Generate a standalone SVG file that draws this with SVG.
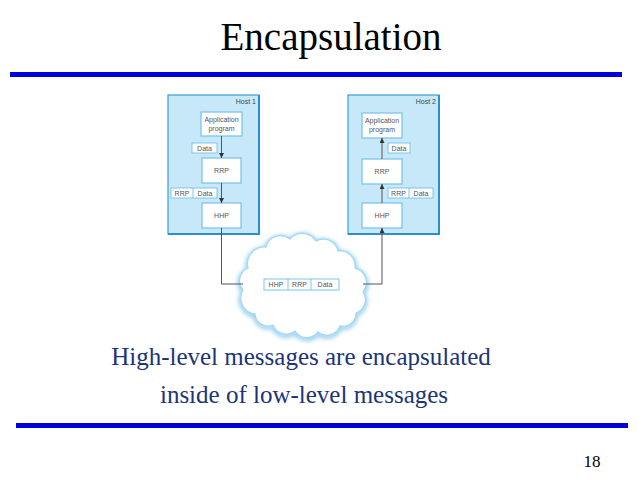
<svg xmlns="http://www.w3.org/2000/svg" width="638" height="479" viewBox="0 0 638 479">
<style>
.title{font-family:"Liberation Serif",serif;font-size:39px;fill:#000}
.body{font-family:"Liberation Serif",serif;font-size:25px;fill:#1c3578}
.num{font-family:"Liberation Serif",serif;font-size:17px;fill:#000}
.rule{fill:#0000dd}
.host{fill:#c7e8f8;stroke:#3a9fd8;stroke-width:1.2}
.hshadow{fill:none;stroke:#2a8fcc;stroke-width:2}
.box{fill:#fff;stroke:#7cc6ec;stroke-width:1.3}
.tag{fill:#fff;stroke:#7cc6ec;stroke-width:1}
.lbl{font-family:"Liberation Sans",Arial,sans-serif;font-size:7px;fill:#555;text-anchor:middle}
.hl{font-family:"Liberation Sans",Arial,sans-serif;font-size:7px;fill:#444;text-anchor:end}
.conn{fill:none;stroke:#555;stroke-width:1}
</style>
<defs>
<marker id="ah" viewBox="0 0 6 6" refX="6" refY="3" markerWidth="5" markerHeight="5" orient="auto" markerUnits="userSpaceOnUse">
<path d="M0,0 L6,3 L0,6 z" fill="#333"/>
</marker>
<path id="cloudpath" d="M243,290 A14,14 0 0 1 248,268 A17,17 0 0 1 266,247 A15,15 0 0 1 290,239 A16,16 0 0 1 316,241 A15,15 0 0 1 338,251 A15,15 0 0 1 355,268 A15,15 0 0 1 363,292 A14,14 0 0 1 356,313 A13,13 0 0 1 340,326 A14,14 0 0 1 318,332 A14,14 0 0 1 295,331 A14,14 0 0 1 273,325 A13,13 0 0 1 255,314 A16,16 0 0 1 243,290 Z"/>
<filter id="glow" x="-20%" y="-20%" width="140%" height="140%">
<feGaussianBlur stdDeviation="2"/>
</filter>
</defs>
<rect width="638" height="479" fill="#fff"/>
<text class="title" x="331" y="50" text-anchor="middle">Encapsulation</text>
<rect class="rule" x="10" y="72" width="612" height="5"/>

<g id="host1">
<rect class="host" x="168" y="95" width="91" height="139"/>
<polyline class="hshadow" points="259,95 259,234 168,234"/>
<text class="hl" x="256" y="104">Host 1</text>
</g>
<g id="app1">
<rect class="box" x="201" y="112" width="41" height="24"/>
<text class="lbl" x="221.5" y="122">Application</text>
<text class="lbl" x="221.5" y="131">program</text>
</g>
<g id="data1">
<rect class="tag" x="192" y="143" width="25" height="10"/>
<text class="lbl" x="204.5" y="150.5">Data</text>
</g>
<g id="rrp1">
<rect class="box" x="202" y="158" width="39" height="25"/>
<text class="lbl" x="221.5" y="173">RRP</text>
</g>
<g id="rrpdata1">
<rect class="tag" x="171" y="188" width="46" height="10"/>
<line x1="193" y1="188" x2="193" y2="198" stroke="#7cc6ec" stroke-width="1"/>
<text class="lbl" x="182" y="195.5">RRP</text>
<text class="lbl" x="205" y="195.5">Data</text>
</g>
<g id="hhp1">
<rect class="box" x="202" y="203" width="39" height="25"/>
<text class="lbl" x="221.5" y="218">HHP</text>
</g>

<g id="host2">
<rect class="host" x="348" y="95" width="91" height="139"/>
<polyline class="hshadow" points="439,95 439,234 348,234"/>
<text class="hl" x="436" y="104">Host 2</text>
</g>
<g id="app2">
<rect class="box" x="362" y="113" width="40" height="25"/>
<text class="lbl" x="382" y="123">Application</text>
<text class="lbl" x="382" y="132">program</text>
</g>
<g id="data2">
<rect class="tag" x="388" y="143" width="22" height="10"/>
<text class="lbl" x="399" y="150.5">Data</text>
</g>
<g id="rrp2">
<rect class="box" x="362" y="159" width="40" height="25"/>
<text class="lbl" x="382" y="174">RRP</text>
</g>
<g id="rrpdata2">
<rect class="tag" x="388" y="188" width="45" height="10"/>
<line x1="409" y1="188" x2="409" y2="198" stroke="#7cc6ec" stroke-width="1"/>
<text class="lbl" x="398.5" y="195.5">RRP</text>
<text class="lbl" x="421" y="195.5">Data</text>
</g>
<g id="hhp2">
<rect class="box" x="362" y="203" width="40" height="25"/>
<text class="lbl" x="382" y="218">HHP</text>
</g>

<g id="cloud">
<use href="#cloudpath" fill="none" stroke="#8ccbee" stroke-width="4" filter="url(#glow)" transform="translate(0,1.5)"/>
<use href="#cloudpath" fill="#fff" stroke="#a6d8f2" stroke-width="1.3"/>
</g>
<g id="packet">
<rect class="tag" x="264" y="279" width="75" height="11"/>
<line x1="288" y1="279" x2="288" y2="290" stroke="#7cc6ec" stroke-width="1"/>
<line x1="311" y1="279" x2="311" y2="290" stroke="#7cc6ec" stroke-width="1"/>
<text class="lbl" x="276" y="287">HHP</text>
<text class="lbl" x="299.5" y="287">RRP</text>
<text class="lbl" x="325" y="287">Data</text>
</g>

<g id="connectors">
<line class="conn" x1="221.5" y1="136" x2="221.5" y2="158" marker-end="url(#ah)"/>
<line class="conn" x1="221.5" y1="183" x2="221.5" y2="203" marker-end="url(#ah)"/>
<polyline class="conn" points="221.5,228 221.5,284 243,284"/>
<polyline class="conn" points="363,284 382,284 382,228" marker-end="url(#ah)"/>
<line class="conn" x1="382" y1="203" x2="382" y2="184" marker-end="url(#ah)"/>
<line class="conn" x1="382" y1="159" x2="382" y2="138" marker-end="url(#ah)"/>
</g>

<text class="body" x="301" y="365" text-anchor="middle">High-level messages are encapsulated</text>
<text class="body" x="304" y="403" text-anchor="middle">inside of low-level messages</text>
<rect class="rule" x="16" y="423" width="612" height="5"/>
<text class="num" x="592" y="467" text-anchor="middle">18</text>
</svg>
